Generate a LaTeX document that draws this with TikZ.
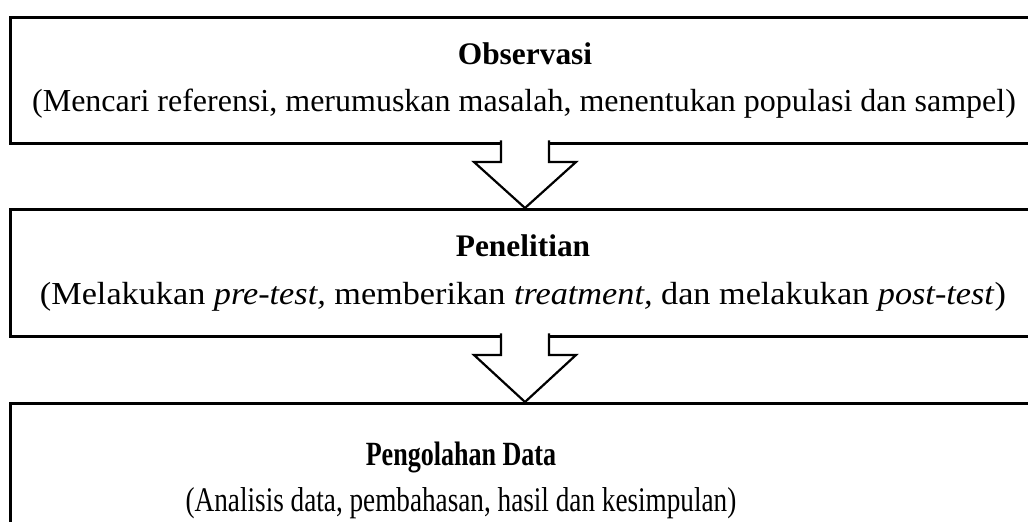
\documentclass[tikz,border=0pt]{standalone}
\usepackage{fontspec}
\setmainfont{Liberation Serif}
\usepackage{tikz}
\usetikzlibrary{positioning, calc}
\tikzset{
x=0.5pt, y=-0.5pt, % one unit is one pixel of the page
stage/.style={draw, line width=1.5pt, inner sep=0pt, anchor=north west}, % the long boxes
title/.style={anchor=base, font=\fontsize{15.7}{18}\selectfont\bfseries}, % bold heading
info/.style={anchor=base, font=\fontsize{16}{18}\selectfont}, % text in brackets
flow/.style={draw, fill=white, line width=1.1pt, line join=miter}, % hollow arrow
}

\begin{document}
\begin{tikzpicture}
        \useasboundingbox (0,0) rectangle (1028,522);
        \clip (0,0) rectangle (1028,522);

        \node[stage, minimum width=520pt, minimum height=63pt] (obs) at (9,16) {};
        \node[stage, minimum width=520pt, minimum height=63.5pt] (pen) at (9,208) {};
        \node[stage, minimum width=520pt, minimum height=80pt] (olah) at (9,402) {};

        \node[title] (t1) at (525,65) {Observasi};
        \node[info] (d1) at (524,112) {(Mencari referensi, merumuskan masalah, menentukan populasi dan sampel)};
        \node[title] (t2) at (523,257) {Penelitian};
        \node[info] (d2) at (523,305) {\scalebox{1.07}[1]{(Melakukan \textit{pre-test,} memberikan \textit{treatment,} dan melakukan \textit{post-test})}};
        \node[title] (t3) at (461,466) {\scalebox{0.83}[1.08]{Pengolahan Data}};
        \node[info] (d3) at (461,512) {\scalebox{0.85}[1.08]{(Analisis data, pembahasan, hasil dan kesimpulan)}};

        \coordinate (a1) at (525,140.5);
        \coordinate (a2) at (525,333.5);

        \draw[flow] ($(a1)+(-24,0)$) -- ($(a1)+(-24,21.5)$) -- ($(a1)+(-51,21.5)$)
              -- (a1 |- pen.north) -- ($(a1)+(51,21.5)$) -- ($(a1)+(24,21.5)$) -- ($(a1)+(24,0)$);
        \draw[flow] ($(a2)+(-24,0)$) -- ($(a2)+(-24,21.5)$) -- ($(a2)+(-51,21.5)$)
              -- (a2 |- olah.north) -- ($(a2)+(51,21.5)$) -- ($(a2)+(24,21.5)$) -- ($(a2)+(24,0)$);
      \end{tikzpicture}
\end{document}
